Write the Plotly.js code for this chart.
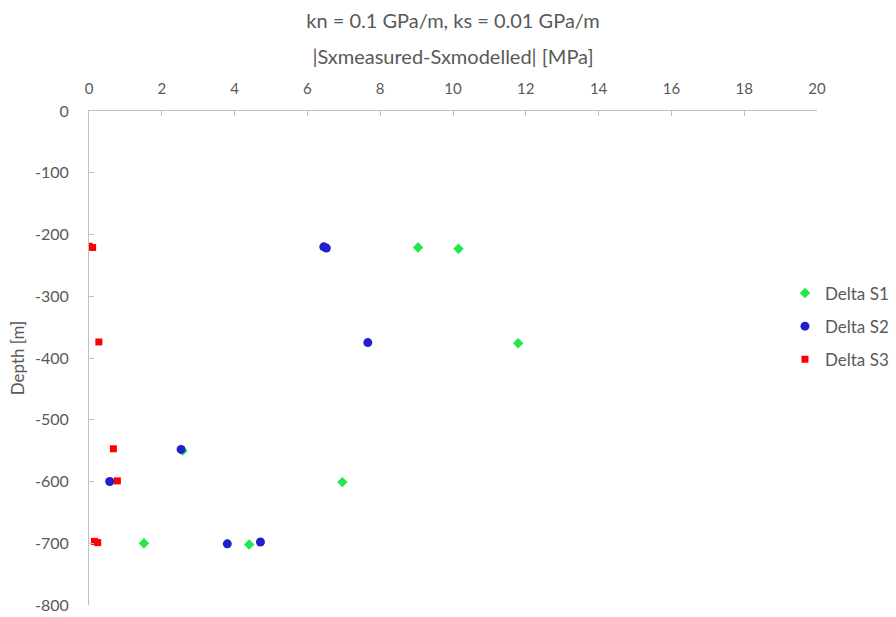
<!DOCTYPE html>
<html>
<head>
<meta charset="utf-8">
<script src="https://cdn.plot.ly/plotly-3.0.1.min.js"></script>
<style>html,body{margin:0;padding:0;background:#fff;}#chart{width:896px;height:617px;}</style>
</head>
<body>
<div id="chart"></div>
<script>
// Delta S1 (green diamonds)
const s1X = [9.04, 10.15, 11.79, 2.57, 6.96, 1.51, 4.40];
const s1Y = [-221, -223, -376, -550, -601, -700, -702];
// Delta S2 (blue circles)
const s2X = [6.45, 6.52, 7.66, 2.53, 0.57, 3.80, 4.71];
const s2Y = [-220, -222, -375, -548, -600, -701, -698];
// Delta S3 (red squares)
const s3X = [0.0, 0.1, 0.27, 0.67, 0.78, 0.15, 0.24];
const s3Y = [-219, -221, -374, -547, -599, -697, -699];

const xTickVals = [0, 2, 4, 6, 8, 10, 12, 14, 16, 18, 20];
const yTickVals = [0, -100, -200, -300, -400, -500, -600, -700, -800];
const yTickText = ["0", "-100", "-200", "-300", "-400", "-500", "-600", "-700", "-800"];

const FONT = "Lato, 'Noto Sans', sans-serif";
const GREY = "#595959";
const AXIS = "#bfbfbf";

const traces = [
  {x: s1X, y: s1Y, name: "Delta S1", type: "scatter", mode: "markers", legendgroup: "a",
   marker: {symbol: "diamond", size: 8, color: "#1ee84b"}},
  {x: s2X, y: s2Y, name: "Delta S2", type: "scatter", mode: "markers", legendgroup: "b",
   marker: {symbol: "circle", size: 9, color: "#2020cc"}},
  {x: s3X, y: s3Y, name: "Delta S3", type: "scatter", mode: "markers", legendgroup: "c",
   marker: {symbol: "square", size: 7, color: "#ff0000"}}
];

const layout = {
  width: 896, height: 617,
  margin: {l: 89, r: 79, t: 111, b: 12, pad: 0, autoexpand: false},
  paper_bgcolor: "#fff", plot_bgcolor: "#fff",
  font: {family: FONT, color: GREY, size: 14},
  title: {text: "kn = 0.1 GPa/m, ks = 0.01 GPa/m", font: {size: 20, color: GREY, family: FONT},
          x: 0.5, xref: "paper", y: 0.978, yref: "container", yanchor: "top"},
  showlegend: true,
  legend: {x: 0.956, xanchor: "left", y: 0.667, yanchor: "top", traceorder: "grouped",
           tracegroupgap: 8, font: {size: 17, color: GREY, family: FONT}, bgcolor: "rgba(0,0,0,0)"},
  xaxis: {
    side: "top", range: [0, 20], tickvals: xTickVals, ticks: "inside", ticklen: 5,
    tickcolor: AXIS, showline: true, linecolor: AXIS, linewidth: 1, showgrid: false,
    zeroline: false, tickfont: {size: 15, color: GREY}, ticklabelstandoff: 10,
    title: {text: "|Sxmeasured-Sxmodelled| [MPa]", font: {size: 20, color: GREY}, standoff: 9},
    automargin: false, fixedrange: true
  },
  yaxis: {
    range: [-800, 0], tickvals: yTickVals, ticktext: yTickText, ticks: "inside", ticklen: 5,
    tickcolor: AXIS, showline: true, linecolor: AXIS, linewidth: 1, showgrid: false,
    zeroline: false, tickfont: {size: 16, color: GREY}, ticklabelstandoff: 16,
    title: {text: "Depth [m]", font: {size: 17, color: GREY}, standoff: 6},
    automargin: false, fixedrange: true
  }
};

Plotly.newPlot("chart", traces, layout, {staticPlot: true, displayModeBar: false});
</script>
</body>
</html>
